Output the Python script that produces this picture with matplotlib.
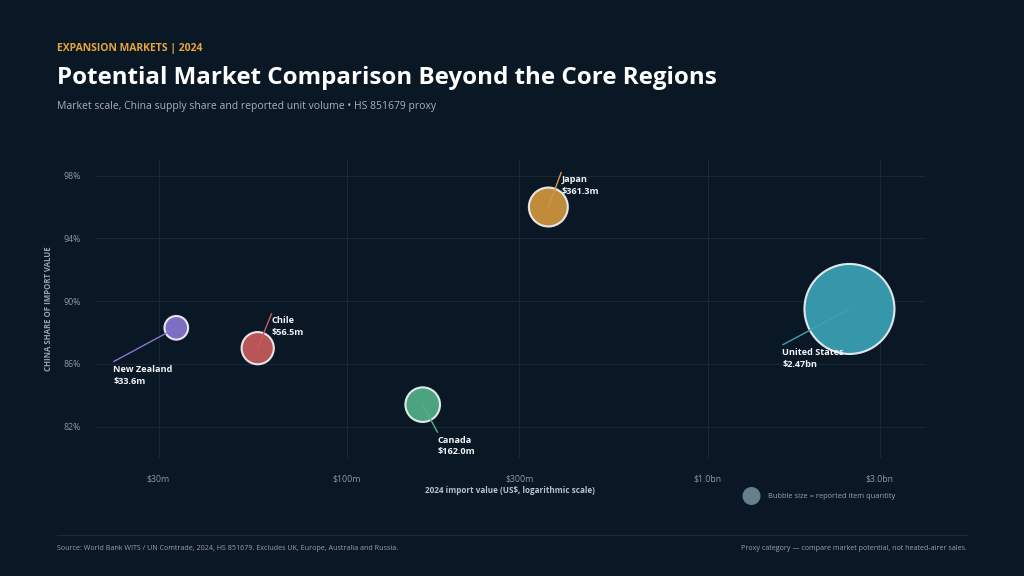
#!/usr/bin/env python3
"""Expansion markets bubble chart: import value vs China share, bubble = quantity."""

import numpy as np
import matplotlib
matplotlib.use("Agg")
import matplotlib.pyplot as plt

# --- data -------------------------------------------------------------------
countries = ["New Zealand", "Chile", "Canada", "Japan", "United States"]
import_value_m = [33.6, 56.5, 162.0, 361.3, 2470.0]        # US$ millions
china_share = [88.3, 87.0, 83.4, 96.0, 89.5]                # percent
quantity_m = [1.4, 2.6, 3.0, 3.8, 20.3]                     # reported items, millions (estimated)
value_labels = ["$33.6m", "$56.5m", "$162.0m", "$361.3m", "$2.47bn"]

x_ticks = [30, 100, 300, 1000, 3000]
x_tick_labels = ["$30m", "$100m", "$300m", "$1.0bn", "$3.0bn"]
y_ticks = [82, 86, 90, 94, 98]

# --- style ------------------------------------------------------------------
BG = "#0a1724"
GRID = "#1a2836"
TICK = "#8e99a6"
WHITE = "#f1f4f7"
colors = ["#8a74d2", "#c85b5c", "#52b088", "#d1973f", "#3ba2b6"]
# leader-line end relative to bubble centre, in pixels (dx, dy; y up)
label_offsets = [(-63, -34), (14, 35), (15, -28), (13, 35), (-67, -36)]

plt.rcParams["font.family"] = ["Open Sans", "DejaVu Sans"]

fig = plt.figure(figsize=(10.24, 5.76), dpi=100)
fig.patch.set_facecolor(BG)
ax = fig.add_axes([0.0928, 0.2049, 0.8105, 0.5174])
ax.set_facecolor(BG)

ax.set_xscale("log")
ax.set_xlim(20, 4000)
ax.set_ylim(80, 99)

ax.set_xticks(x_ticks)
ax.set_xticklabels(x_tick_labels)
ax.xaxis.set_minor_locator(matplotlib.ticker.NullLocator())
ax.set_yticks(y_ticks)
ax.set_yticklabels([f"{v}%" for v in y_ticks])
ax.tick_params(axis="both", length=0, colors=TICK, labelsize=6.3)
ax.tick_params(axis="x", pad=12)
ax.tick_params(axis="y", pad=10)
ax.grid(True, color=GRID, linewidth=0.8)
ax.set_axisbelow(True)
for s in ax.spines.values():
    s.set_visible(False)

size_scale = 207.0
sizes = np.array(quantity_m) * size_scale
ax.scatter(import_value_m, china_share, s=sizes, c=colors, alpha=0.92,
           edgecolors=WHITE, linewidths=1.5, zorder=3, clip_on=False)

inv = ax.transData.inverted()
for i, name in enumerate(countries):
    dx, dy = label_offsets[i]
    cx, cy = ax.transData.transform((import_value_m[i], china_share[i]))
    ex, ey = inv.transform((cx + dx, cy + dy))
    ax.plot([import_value_m[i], ex], [china_share[i], ey], color=colors[i],
            lw=1.0, zorder=4, solid_capstyle="butt")
    tx, ty = inv.transform((cx + dx, cy + dy - 3))
    ax.text(tx, ty, f"{name}\n{value_labels[i]}", ha="left", va="top",
            fontsize=6.6, fontweight="bold", color=WHITE, linespacing=1.4,
            zorder=5)

ax.set_xlabel("2024 import value (US$, logarithmic scale)", fontsize=5.9,
              fontweight="bold", color="#b9c2cc", labelpad=2)
fig.text(0.047, 1 - 309 / 576, "CHINA SHARE OF IMPORT VALUE", rotation=90,
         ha="center", va="center", fontsize=5.6, fontweight="bold",
         color="#9aa5b1")

# --- titles -----------------------------------------------------------------
fig.text(0.0557, 1 - 48 / 576, "EXPANSION MARKETS | 2024", fontsize=7.5,
         fontweight="bold", color="#e8a43c", va="center")
fig.text(0.0557, 1 - 78 / 576, "Potential Market Comparison Beyond the Core Regions",
         fontsize=17.4, fontweight="bold", color="#ffffff", va="center")
fig.text(0.0557, 1 - 107 / 576,
         "Market scale, China supply share and reported unit volume \u2022 HS 851679 proxy",
         fontsize=7.5, color="#a7b1bd", va="center")

# --- bubble legend ----------------------------------------------------------
fig.patches.append(matplotlib.patches.Ellipse(
    (751.5 / 1024, 1 - 496 / 576), 18 / 1024, 18 / 576,
    transform=fig.transFigure, facecolor="#687d8e", edgecolor="none"))
fig.text(768 / 1024, 1 - 497 / 576, "Bubble size = reported item quantity",
         fontsize=5.45, color="#98a3af", va="center")

# --- footer -----------------------------------------------------------------
fig.add_artist(matplotlib.lines.Line2D([0.0557, 0.9443], [1 - 535 / 576] * 2,
                                       color="#1c2b3a", linewidth=1.0))
fig.text(0.0557, 1 - 549 / 576,
         "Source: World Bank WITS / UN Comtrade, 2024, HS 851679. Excludes UK, Europe, Australia and Russia.",
         fontsize=5.1, color="#98a3af", va="center")
fig.text(0.9443, 1 - 549 / 576,
         "Proxy category \u2014 compare market potential, not heated-airer sales.",
         fontsize=5.1, color="#98a3af", va="center", ha="right")

fig.savefig("out.png", dpi=100, facecolor=BG)
